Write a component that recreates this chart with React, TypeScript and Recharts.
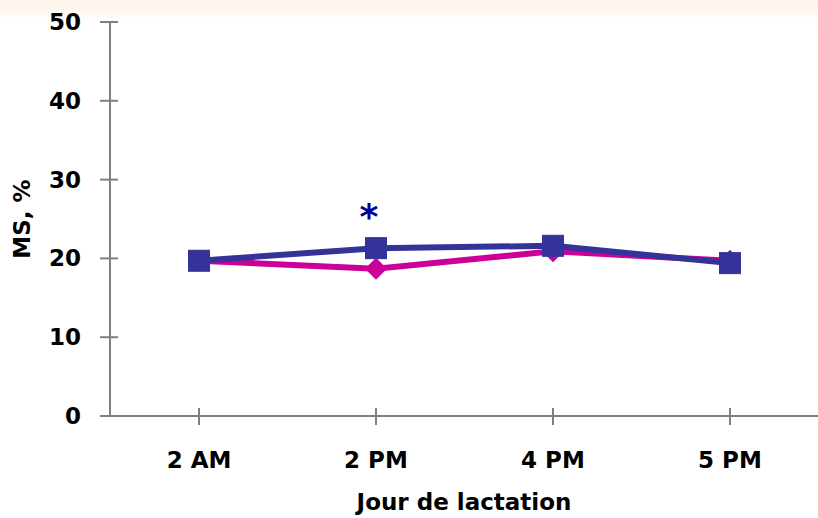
import React from "react";
import { LineChart, Line, XAxis, YAxis, Label } from "recharts";

const categories = ["2 AM", "2 PM", "4 PM", "5 PM"];
const blueValues = [19.7, 21.3, 21.6, 19.4];
const pinkValues = [19.7, 18.7, 20.9, 19.7];
const annotations = ["", "*", "", ""];
const yTicks = [0, 10, 20, 30, 40, 50];

const data = categories.map((c, i) => ({
  cat: c,
  pink: pinkValues[i],
  blue: blueValues[i],
  note: annotations[i],
}));

const FONT = "'DejaVu Sans', sans-serif";
const AXIS = "#808080";
const FS = 23;

const YTick = (props: any) => {
  const { x, y, payload } = props;
  return (
    <g>
      <line x1={x - 10} x2={x + 8} y1={y} y2={y} stroke={AXIS} strokeWidth={2} />
      <text x={x - 29} y={y} dy={8} textAnchor="end" fontFamily={FONT} fontWeight="bold" fontSize={FS} fill="#000">
        {payload.value}
      </text>
    </g>
  );
};

const XTick = (props: any) => {
  const { x, y, payload } = props;
  return (
    <g>
      <line x1={x} x2={x} y1={y - 8} y2={y + 9} stroke={AXIS} strokeWidth={2} />
      <text x={x} y={y + 52} textAnchor="middle" fontFamily={FONT} fontWeight="bold" fontSize={FS} fill="#000">
        {payload.value}
      </text>
    </g>
  );
};

const Square = (props: any) => {
  const { cx, cy } = props;
  if (cx == null || cy == null) return null;
  return <rect x={cx - 10.5} y={cy - 10.5} width={21} height={21} fill="#333399" stroke="#333399" strokeWidth={1} />;
};

const Diamond = (props: any) => {
  const { cx, cy } = props;
  if (cx == null || cy == null) return null;
  const r = 11;
  return <polygon points={`${cx},${cy - r} ${cx + r},${cy} ${cx},${cy + r} ${cx - r},${cy}`} fill="#CC0099" />;
};

const Star = (props: any) => {
  const { x, y, index } = props;
  const t = annotations[index];
  if (!t) return null;
  return (
    <text x={x - 7} y={y - 19} textAnchor="middle" fontFamily={FONT} fontWeight="bold" fontSize={36} fill="#000099">
      {t}
    </text>
  );
};

export default function App() {
  return (
    <div
      style={{
        position: "absolute",
        left: 0,
        top: 0,
        width: 818,
        height: 518,
        background: "linear-gradient(to bottom, #fdf3ea 0px, #ffffff 26px)",
      }}
    >
      <LineChart width={818} height={518} data={data} margin={{ top: 22, right: 0, bottom: 0, left: 0 }}>
        <XAxis
          dataKey="cat"
          height={102}
          stroke={AXIS}
          strokeWidth={2}
          tickLine={false}
          tickSize={0}
          tickMargin={0}
          tick={<XTick />}
          interval={0}
          padding={{ left: 89, right: 88 }}
        >
          <Label
            value="Jour de lactation"
            position="insideBottom"
            offset={8}
            fontFamily={FONT}
            fontWeight="bold"
            fontSize={FS}
            fill="#000"
          />
        </XAxis>
        <YAxis
          width={110}
          domain={[0, 50]}
          ticks={yTicks}
          stroke={AXIS}
          strokeWidth={2}
          tickLine={false}
          tickSize={0}
          tickMargin={0}
          tick={<YTick />}
          interval={0}
        >
          <Label
            value="MS, %"
            angle={-90}
            position="insideLeft"
            offset={22}
            fontFamily={FONT}
            fontWeight="bold"
            fontSize={FS}
            fill="#000"
            style={{ textAnchor: "middle" }}
          />
        </YAxis>
        <Line
          dataKey="pink"
          stroke="#CC0099"
          strokeWidth={6}
          dot={<Diamond />}
          activeDot={false}
          isAnimationActive={false}
        />
        <Line
          dataKey="blue"
          stroke="#333399"
          strokeWidth={6}
          dot={<Square />}
          activeDot={false}
          isAnimationActive={false}
          label={<Star />}
        />
      </LineChart>
    </div>
  );
}
